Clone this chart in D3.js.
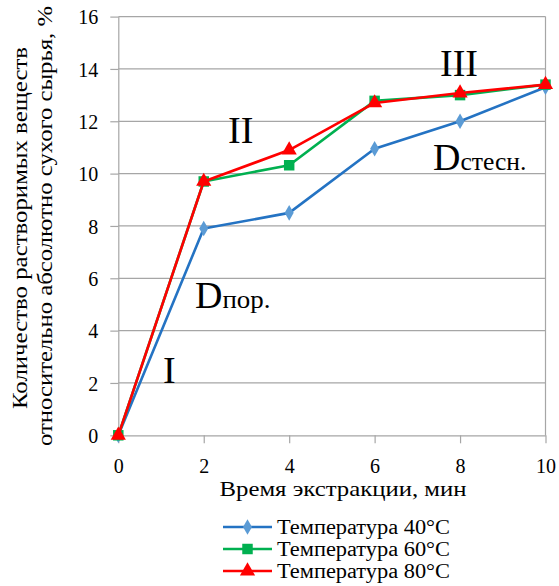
<!DOCTYPE html>
<html>
<head>
<meta charset="utf-8">
<script src="https://cdn.jsdelivr.net/npm/d3@7"></script>
<style>
  html, body { margin: 0; padding: 0; background: #fff; }
  svg text { font-family: "Liberation Serif", "Times New Roman", "DejaVu Serif", "Noto Serif", "FreeSerif", "Tinos", serif; fill: #000; }
</style>
</head>
<body>
<svg id="chart" width="559" height="586"></svg>
<script>
// Extraction time, min
const times = [0, 2, 4, 6, 8, 10];
// Soluble substances yield, % of absolutely dry raw material
const temp40 = [0, 7.9, 8.5, 10.95, 12.0, 13.3];
const temp60 = [0, 9.7, 10.32, 12.78, 13.0, 13.4];
const temp80 = [0, 9.7, 10.9, 12.7, 13.08, 13.4];
const seriesNames = ["Температура 40°C", "Температура 60°C", "Температура 80°C"];
const xTicks = [0, 2, 4, 6, 8, 10];
const yTicks = [0, 2, 4, 6, 8, 10, 12, 14, 16];

const svg = d3.select("#chart");
const x = d3.scaleLinear().domain([0, 10]).range([118.3, 545.5]);
const y = d3.scaleLinear().domain([0, 16]).range([435.3, 16.6]);
const axisColor = "#a6a6a6";

// horizontal gridlines
svg.append("g")
  .selectAll("line").data(yTicks.slice(1)).join("line")
  .attr("x1", x(0)).attr("x2", x(10))
  .attr("y1", d => y(d)).attr("y2", d => y(d))
  .attr("stroke", axisColor).attr("stroke-width", 1.2);

// right border of plot area
svg.append("line")
  .attr("x1", x(10)).attr("x2", x(10)).attr("y1", y(0)).attr("y2", y(16))
  .attr("stroke", axisColor).attr("stroke-width", 1.2);

// y axis
const yAxis = svg.append("g").attr("transform", `translate(${x(0)},0)`)
  .call(d3.axisLeft(y).tickValues(yTicks).tickSize(8).tickPadding(12).tickSizeOuter(0));
yAxis.attr("font-family", null);
yAxis.selectAll("text").attr("font-size", 20).attr("dy", "0.36em");
yAxis.selectAll("line, path").attr("stroke", axisColor).attr("stroke-width", 1.2);

// x axis
const xAxis = svg.append("g").attr("transform", `translate(0,${y(0)})`)
  .call(d3.axisBottom(x).tickValues(xTicks).tickSize(8).tickPadding(0).tickSizeOuter(0));
xAxis.attr("font-family", null);
xAxis.selectAll("text").attr("font-size", 20).attr("dy", null).attr("y", 38);
xAxis.selectAll("line, path").attr("stroke", axisColor).attr("stroke-width", 1.2);

// axis titles
svg.append("text")
  .attr("x", 343).attr("y", 496).attr("text-anchor", "middle")
  .attr("font-size", 22).attr("textLength", 247).attr("lengthAdjust", "spacingAndGlyphs")
  .text("Время экстракции, мин");
svg.append("text")
  .attr("transform", "translate(27,228) rotate(-90)")
  .attr("text-anchor", "middle").attr("font-size", 22)
  .attr("textLength", 362).attr("lengthAdjust", "spacingAndGlyphs")
  .text("Количество растворимых веществ");
svg.append("text")
  .attr("transform", "translate(52,226) rotate(-90)")
  .attr("text-anchor", "middle").attr("font-size", 22)
  .attr("textLength", 440).attr("lengthAdjust", "spacingAndGlyphs")
  .text("относительно абсолютно сухого сырья, %");

const series = [
  { name: seriesNames[0], values: temp40, color: "#2473c3", marker: "#5b9bd5", shape: d3.symbolDiamond, size: 70 },
  { name: seriesNames[1], values: temp60, color: "#00b050", marker: "#00b050", shape: d3.symbolSquare, size: 110 },
  { name: seriesNames[2], values: temp80, color: "#ff0000", marker: "#ff0000", shape: d3.symbolTriangle, size: 100 }
];

const line = d3.line().x((d, i) => x(times[i])).y(d => y(d));

series.forEach(s => {
  const g = svg.append("g");
  g.append("path").attr("d", line(s.values))
    .attr("fill", "none").attr("stroke", s.color).attr("stroke-width", 2.6)
    .attr("stroke-linejoin", "round");
  g.selectAll("path.m").data(s.values).join("path").attr("class", "m")
    .attr("transform", (d, i) => `translate(${x(times[i])},${y(d)})`)
    .attr("d", d3.symbol().type(s.shape).size(s.size))
    .attr("fill", s.marker);
});

// stage annotations
function note(px, py, main, sub, subWidth) {
  const t = svg.append("text").attr("x", px).attr("y", py).attr("font-size", 38);
  t.append("tspan").text(main);
  if (sub) {
    t.append("tspan").attr("font-size", 26)
      .attr("textLength", subWidth).attr("lengthAdjust", "spacingAndGlyphs").text(sub);
  }
}
note(163, 383, "I");
note(228, 143, "II");
note(440, 76, "III");
note(195, 308, "D", "пор.", 48);
note(433, 170, "D", "стесн.", 66);

// legend
const lg = svg.append("g");
series.forEach((s, i) => {
  const cy = 527 + i * 22;
  lg.append("line").attr("x1", 223).attr("x2", 272).attr("y1", cy).attr("y2", cy)
    .attr("stroke", s.color).attr("stroke-width", 2.6);
  lg.append("path").attr("transform", `translate(247.5,${cy})`)
    .attr("d", d3.symbol().type(s.shape).size(s.size)).attr("fill", s.marker);
  lg.append("text").attr("x", 277).attr("y", cy + 7).attr("font-size", 20)
    .attr("textLength", 173).attr("lengthAdjust", "spacingAndGlyphs").text(s.name);
});
</script>
</body>
</html>
